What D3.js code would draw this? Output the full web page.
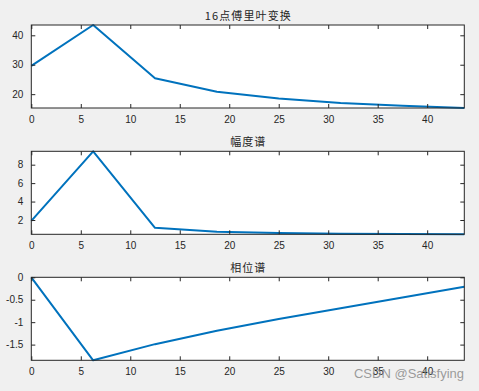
<!DOCTYPE html>
<html>
<head>
<meta charset="utf-8">
<script src="https://cdn.jsdelivr.net/npm/d3@7"></script>
<style>
html,body{margin:0;padding:0;background:#f0f0f0;}
svg{display:block;}
</style>
</head>
<body>
<svg id="chart" width="479" height="391"></svg>
<script>
// ---- data ----
const freq = [0, 6.25, 12.5, 18.75, 25, 31.25, 37.5, 43.75];
const fftMag = [29.6, 43.5, 25.4, 20.8, 18.5, 17.0, 16.1, 15.3];
const ampSpec = [1.9, 9.45, 1.15, 0.72, 0.58, 0.51, 0.47, 0.45];
const phaseSpec = [0, -1.85, -1.49, -1.19, -0.93, -0.69, -0.45, -0.21];
const xTicks = [0, 5, 10, 15, 20, 25, 30, 35, 40];
const yTicks1 = [20, 30, 40];
const yTicks2 = [2, 4, 6, 8];
const yTicks3 = [-1.5, -1, -0.5, 0];
const titles = ["16点傅里叶变换", "幅度谱", "相位谱"];

const svg = d3.select("#chart");
const left = 31.3, right = 464.3, h = 83;
const tops = [25, 151.3, 277.3];
const series = [fftMag, ampSpec, phaseSpec];
const yTicksAll = [yTicks1, yTicks2, yTicks3];
const titleLen = [86, 35, 35];
const axisColor = "#262626";
const tickLen = 4;

const x = d3.scaleLinear().domain([0, d3.max(freq)]).range([left, right]);

series.forEach((vals, i) => {
  const top = tops[i], bottom = top + h;
  const y = d3.scaleLinear().domain(d3.extent(vals)).range([bottom, top]);
  const g = svg.append("g");

  g.append("rect").attr("x", left).attr("y", top)
    .attr("width", right - left).attr("height", h).attr("fill", "#ffffff");

  // line
  const line = d3.line().x((d, j) => x(freq[j])).y(d => y(d));
  g.append("path").datum(vals).attr("d", line)
    .attr("fill", "none").attr("stroke", "#0072BD")
    .attr("stroke-width", 2).attr("stroke-linejoin", "round");

  // axes (ticks inward, mirrored)
  const fmt = d => String(d);
  const styleAxis = sel => {
    sel.select(".domain").remove();
    sel.selectAll(".tick line").attr("stroke", axisColor);
    sel.selectAll(".tick text").attr("fill", axisColor)
      .attr("font-family", "Liberation Sans, Arial, sans-serif").attr("font-size", 10);
  };
  g.append("g").attr("transform", `translate(0,${bottom})`)
    .call(d3.axisBottom(x).tickValues(xTicks).tickFormat(fmt).tickSizeInner(-tickLen).tickSizeOuter(0).tickPadding(8))
    .call(styleAxis);
  g.append("g").attr("transform", `translate(0,${top})`)
    .call(d3.axisTop(x).tickValues(xTicks).tickFormat("").tickSizeInner(-tickLen).tickSizeOuter(0))
    .call(styleAxis);
  g.append("g").attr("transform", `translate(${left},0)`)
    .call(d3.axisLeft(y).tickValues(yTicksAll[i]).tickFormat(fmt).tickSizeInner(-tickLen).tickSizeOuter(0).tickPadding(8))
    .call(styleAxis);
  g.append("g").attr("transform", `translate(${right},0)`)
    .call(d3.axisRight(y).tickValues(yTicksAll[i]).tickFormat("").tickSizeInner(-tickLen).tickSizeOuter(0))
    .call(styleAxis);

  g.append("rect").attr("x", left).attr("y", top)
    .attr("width", right - left).attr("height", h)
    .attr("fill", "none").attr("stroke", axisColor).attr("stroke-width", 1);

  g.append("text").attr("x", (left + right) / 2).attr("y", top - 5)
    .attr("text-anchor", "middle")
    .attr("font-family", "Noto Sans CJK SC, sans-serif").attr("font-size", 11)
    .attr("fill", axisColor)
    .attr("textLength", titleLen[i]).attr("lengthAdjust", "spacing")
    .text(titles[i]);
});

svg.append("text").attr("x", 464).attr("y", 378)
  .attr("text-anchor", "end")
  .attr("font-family", "Liberation Sans, Arial, sans-serif").attr("font-size", 13)
  .attr("fill", "#8a8a8a").attr("fill-opacity", 0.85)
  .text("CSDN @Satisfying");
</script>
</body>
</html>
